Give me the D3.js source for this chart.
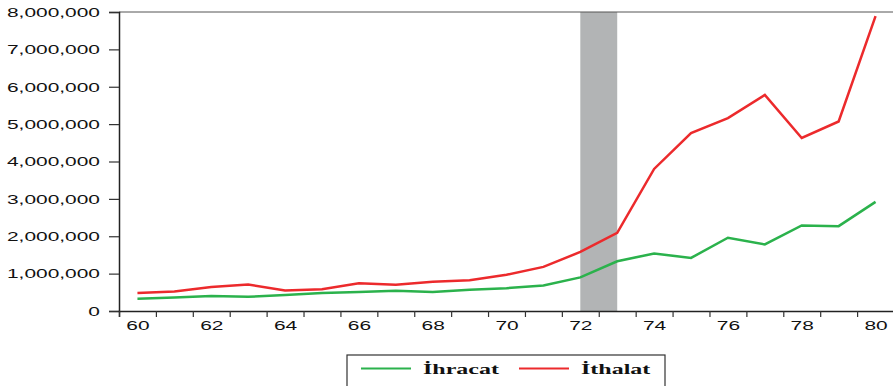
<!DOCTYPE html>
<html>
<head>
<meta charset="utf-8">
<script src="https://cdn.jsdelivr.net/npm/d3@7"></script>
<style>
  body { margin: 0; background: #fff; }
  svg { display: block; }
</style>
</head>
<body>
<div id="chart"></div>
<script>
// Veriler
const years = [1960, 1961, 1962, 1963, 1964, 1965, 1966, 1967, 1968, 1969, 1970,
               1971, 1972, 1973, 1974, 1975, 1976, 1977, 1978, 1979, 1980];
const ihracat = [330000, 360000, 400000, 380000, 430000, 480000, 510000, 540000, 510000, 570000, 610000,
                 680000, 900000, 1330000, 1540000, 1420000, 1960000, 1780000, 2290000, 2270000, 2920000];
const ithalat = [480000, 520000, 640000, 710000, 550000, 580000, 740000, 700000, 780000, 820000, 970000,
                 1180000, 1580000, 2090000, 3800000, 4760000, 5160000, 5780000, 4630000, 5070000, 7890000];
const shade = [1972, 1973];
const yTicks = [0, 1000000, 2000000, 3000000, 4000000, 5000000, 6000000, 7000000, 8000000];
const xLabels = [1960, 1962, 1964, 1966, 1968, 1970, 1972, 1974, 1976, 1978, 1980];
const seriesNames = ["İhracat", "İthalat"];

// Ayarlar
const W = 893, H = 386;
const margin = { top: 12, right: -1, bottom: 75, left: 119 };
const width = W - margin.left - margin.right;
const height = H - margin.top - margin.bottom;
const stretch = 1.55;

const svg = d3.select("#chart").append("svg")
    .attr("width", W).attr("height", H);
const g = svg.append("g")
    .attr("transform", `translate(${margin.left},${margin.top})`);

const x = d3.scaleLinear().domain([1959.5, 1980.5]).range([0, width]);
const y = d3.scaleLinear().domain([0, 8000000]).range([height, 0]);
const colors = { "İhracat": "#2bb24c", "İthalat": "#ec2a2c" };

// Gölgeli alan
g.append("rect")
    .attr("x", x(shade[0]))
    .attr("y", 0)
    .attr("width", x(shade[1]) - x(shade[0]))
    .attr("height", height)
    .attr("fill", "#b2b4b5");

// Üst çerçeve
g.append("line")
    .attr("x1", 0).attr("x2", width)
    .attr("y1", 0).attr("y2", 0)
    .attr("stroke", "#555").attr("stroke-width", 1);

// Y ekseni
const yAxis = g.append("g")
    .call(d3.axisLeft(y).tickValues(yTicks).tickSize(10).tickPadding(9).tickFormat(d3.format(",")));
yAxis.selectAll("text")
    .attr("font-family", "Liberation Sans, Arial, sans-serif")
    .attr("font-size", 13.5)
    .attr("fill", "#111")
    .attr("x", -19 / stretch)
    .attr("transform", `scale(${stretch},1)`);

// X ekseni: sınır çentikleri
const boundaries = years.map(d => d - 0.5);
const xAxis = g.append("g")
    .attr("transform", `translate(0,${height})`)
    .call(d3.axisBottom(x).tickValues(boundaries).tickSize(6).tickFormat(""));
// X etiketleri
const xLab = g.append("g")
    .attr("transform", `translate(0,${height})`)
    .call(d3.axisBottom(x).tickValues(xLabels).tickSize(0).tickPadding(9).tickFormat(d => String(d).slice(2)));
xLab.select(".domain").remove();
xLab.selectAll("text")
    .attr("font-family", "Liberation Sans, Arial, sans-serif")
    .attr("font-size", 13.5)
    .attr("fill", "#111")
    .attr("transform", `scale(${stretch},1)`);

[yAxis, xAxis].forEach(a => {
    a.select(".domain").attr("stroke", "#222").attr("stroke-width", 1.5);
    a.selectAll(".tick line").attr("stroke", "#333").attr("stroke-width", 1.2);
});

// Çizgiler
const line = d3.line().x((d, i) => x(years[i])).y(d => y(d));
[[ihracat, "İhracat"], [ithalat, "İthalat"]].forEach(([vals, name]) => {
    g.append("path")
        .datum(vals)
        .attr("fill", "none")
        .attr("stroke", colors[name])
        .attr("stroke-width", 2.5)
        .attr("stroke-linejoin", "miter")
        .attr("d", line);
});

// Lejant
const leg = svg.append("g").attr("transform", "translate(347,355)");
leg.append("rect")
    .attr("x", 0).attr("y", 0)
    .attr("width", 318).attr("height", 40)
    .attr("fill", "#fff")
    .attr("stroke", "#333").attr("stroke-width", 1.2);
const legX = [14, 172];
seriesNames.forEach((name, i) => {
    leg.append("line")
        .attr("x1", legX[i]).attr("x2", legX[i] + 50)
        .attr("y1", 13.5).attr("y2", 13.5)
        .attr("stroke", colors[name]).attr("stroke-width", 2);
    leg.append("text")
        .attr("x", (legX[i] + 62) / 1.6)
        .attr("y", 19)
        .attr("transform", "scale(1.6,1)")
        .attr("font-family", "Liberation Serif, Times New Roman, serif")
        .attr("font-weight", "bold")
        .attr("font-size", 15)
        .attr("fill", "#111")
        .text(name);
});
</script>
</body>
</html>
